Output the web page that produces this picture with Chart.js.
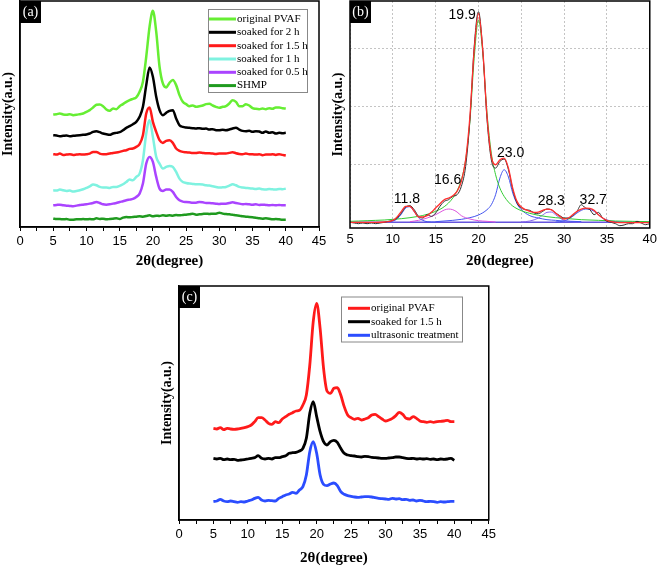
<!DOCTYPE html>
<html>
<head>
<meta charset="utf-8">
<script src="https://cdn.jsdelivr.net/npm/chart.js@4.4.1/dist/chart.umd.min.js"></script>
<style>
  body { margin: 0; background: #fff; width: 661px; height: 567px; position: relative; overflow: hidden; }
  .panel { position: absolute; }
</style>
</head>
<body>
<div class="panel" style="left:0;top:0;width:330px;height:270px"><canvas id="chartA"></canvas></div>
<div class="panel" style="left:330px;top:0;width:331px;height:270px"><canvas id="chartB"></canvas></div>
<div class="panel" style="left:159px;top:285px;width:340px;height:282px"><canvas id="chartC"></canvas></div>
<script>
// 2theta sample points (degree)
const angles = [5,5.5,6,6.5,7,7.5,8,8.5,9,9.5,10,10.5,11,11.5,12,12.5,13,13.5,14,14.5,
  15,15.5,16,16.5,17,17.5,18,18.5,19,19.5,20,20.5,21,21.5,22,22.5,23,23.5,24,24.5,
  25,25.5,26,26.5,27,27.5,28,28.5,29,29.5,30,30.5,31,31.5,32,32.5,33,33.5,34,34.5,
  35,35.5,36,36.5,37,37.5,38,38.5,39,39.5,40];

// ---- panel (a) : stacked XRD patterns (a.u.) ----
const aPvaf = [337,338,340,337,336,338,335,336,338,340,345,350,358,366,367,362,352,348,355,353,
  362,368,375,380,384,388,405,435,510,600,648,585,480,430,418,432,440,425,395,375,
  368,362,364,360,362,364,368,369,364,360,357,360,362,370,380,375,362,362,368,364,
  356,354,353,355,353,356,354,358,358,356,355];
const a2h = [275,274,272,273,274,272,273,274,275,276,277,280,285,287,284,280,278,276,280,282,
  284,290,297,302,308,315,330,360,425,478,450,390,350,335,342,348,350,325,305,300,
  298,297,296,295,296,294,295,292,293,290,290,291,290,292,295,297,292,288,287,288,
  285,287,286,282,286,282,284,280,282,281,282];
const a15h = [218,217,220,216,217,218,216,217,218,217,218,220,225,225,220,218,218,220,222,223,
  225,228,230,234,235,240,248,275,340,358,315,285,260,252,258,260,252,235,228,225,
  224,223,222,222,223,222,221,221,220,219,220,220,220,222,224,221,219,218,220,218,
  218,217,218,215,217,217,218,216,218,216,214];
const a1h = [110,109,112,110,108,109,106,108,110,113,117,122,127,125,120,118,118,117,120,120,
  123,128,135,142,140,150,160,200,280,320,270,210,190,175,180,183,180,165,145,135,
  132,130,129,128,128,127,125,124,122,120,118,119,120,124,128,125,120,118,117,116,
  115,114,115,113,112,114,113,112,114,113,115];
const a05h = [65,66,67,65,64,63,62,64,66,67,68,70,72,75,72,68,67,68,70,72,
  75,77,80,82,84,90,100,130,190,210,195,150,115,108,112,112,105,90,80,76,
  75,74,73,73,75,74,72,72,71,70,69,70,70,72,74,72,70,68,69,68,
  67,68,66,67,66,65,66,65,66,65,65];
const aShmp = [25,24,24,23,24,22,22,23,23,24,23,24,23,26,24,25,23,24,25,26,
  24,28,30,29,30,31,32,31,33,35,32,34,33,35,34,35,34,36,35,36,
  37,38,40,37,38,39,40,39,40,40,43,40,39,38,37,35,34,32,31,30,
  29,28,26,25,26,25,23,24,23,22,22];

// ---- panel (b) : peak fitting of original PVAF ----
const bRaw = [17,15,13,15,13,15,13,15,17,20,23,30,45,63,67,55,35,30,40,35,
  45,65,80,85,95,100,125,185,325,545,650,535,325,205,180,200,207,175,115,75,
  60,55,53,45,43,50,57,55,45,37,30,30,37,50,70,60,55,40,47,30,
  20,17,13,7,9,13,13,20,15,10,13];
const fitX = [5,6,7,8,9,10,10.5,11,11.5,12,12.5,13,13.5,14,14.5,15,15.5,16,16.5,17,17.5,18,18.5,19,19.5,
  20,20.5,21,21.5,22,22.5,23,23.5,24,24.5,25,25.5,26,26.5,27,27.5,28,28.5,29,29.5,30,30.5,31,31.5,
  32,32.5,33,33.5,34,34.5,35,35.5,36,37,38,39,40];
const fitY = [17,17,17,17,18,23,33,50,65,65,50,33,33,37,47,60,73,85,90,97,110,140,205,335,535,
  645,535,335,215,190,205,210,180,120,80,63,55,50,47,48,53,57,55,45,35,27,30,40,50,
  57,60,59,53,40,30,23,19,17,16,16,16,16];
const p199X = [5,6,7,8,9,10,11,12,13,14,15,15.5,16,16.5,17,17.5,18,18.5,19,19.5,20,20.5,21,21.5,22,22.5,23,23.5,24,
  25,26,27,28,29,30,32,34,36,38,40];
const p199Y = [20,21,22,23,24,26,28,31,35,41,50,56,64,75,90,112,145,205,320,510,625,525,345,225,160,120,95,78,66,
  52,44,38,34,31,29,25,23,21,20,19];
const p118X = [9,10,10.5,11,11.5,12,12.5,13,13.5,14,15];
const p118Y = [17,21,27,42,60,64,49,31,23,19,18];
const p166X = [12,13,14,15,15.5,16,16.5,17,17.5,18,19,20,21,22];
const p166Y = [19,23,30,40,47,54,57,55,48,37,27,22,20,18];
const p230X = [15,17,18,19,20,21,21.5,22,22.5,23,23.5,24,24.5,25,26,27,28,29,30,32];
const p230Y = [19,23,26,31,39,55,70,100,150,175,153,105,73,55,37,30,25,23,21,19];
const p283X = [25,26,27,27.5,28,28.5,29,29.5,30,31,32];
const p283Y = [18,21,30,39,47,48,40,30,23,19,18];
const p327X = [29,30,30.5,31,31.5,32,32.5,33,33.5,34,34.5,35,36,37];
const p327Y = [18,21,27,35,45,53,57,56,50,40,30,24,19,17];
const baseX = [5,40];
const baseY = [17,17];
const peakNames = ['11.8','16.6','19.9','23.0','28.3','32.7'];
const peakLabelX = [11.65,16.4,18.1,23.75,28.5,33.4];
const peakLabelY = [88,145,640,225,80,85];
const bGridY = [18,192,366,540];

// ---- panel (c) ----
const cPvaf = [275,273,277,271,275,273,272,273,275,277,280,285,295,307,307,300,290,287,295,292,
  303,310,317,322,327,329,345,375,465,595,650,575,455,387,380,395,397,375,340,315,
  307,302,305,300,303,307,315,317,310,303,297,300,305,313,323,317,305,303,310,305,
  297,295,293,295,293,295,296,297,299,295,295];
const cSoaked = [185,183,185,181,183,181,182,179,180,181,183,185,187,193,185,183,185,183,187,187,
  190,193,200,202,203,207,215,245,320,355,310,265,235,225,235,239,233,215,200,195,
  193,192,190,189,191,190,188,187,186,185,185,186,187,189,189,187,185,184,185,183,
  184,183,184,182,183,181,183,182,183,185,179];
const cUltra = [55,57,62,57,55,57,55,53,55,54,57,60,65,68,60,57,59,58,57,65,
  70,75,78,83,80,90,100,135,205,235,200,135,107,103,108,111,103,85,77,73,
  71,69,68,69,70,70,69,67,65,64,63,62,65,63,64,61,62,59,60,57,
  59,57,55,56,55,53,55,54,55,56,56];

const pts = (xs, ys) => xs.map((x, i) => ({ x: x, y: ys[i] }));

// frame + black panel tag
const frame = {
  id: 'frame',
  afterDraw(chart, args, opts) {
    const { ctx, chartArea: a } = chart;
    ctx.save();
    ctx.strokeStyle = '#000';
    ctx.lineWidth = 1.5;
    ctx.strokeRect(a.left, a.top, a.right - a.left, a.bottom - a.top);
    ctx.fillStyle = '#000';
    ctx.fillRect(a.left, a.top, 21, 22);
    ctx.fillStyle = '#fff';
    ctx.font = '14px "Liberation Serif"';
    ctx.textAlign = 'center';
    ctx.textBaseline = 'middle';
    ctx.fillText(opts.tag, a.left + 10.5, a.top + 11.5);
    ctx.restore();
  }
};

// boxed legend inside the plot
const boxLegend = {
  id: 'boxLegend',
  afterDraw(chart, args, opts) {
    if (!opts.rows) return;
    const ctx = chart.ctx;
    const [bx, by, bw, bh] = opts.box;
    ctx.save();
    ctx.fillStyle = '#fff';
    ctx.fillRect(bx, by, bw, bh);
    ctx.strokeStyle = '#888';
    ctx.lineWidth = 1;
    ctx.strokeRect(bx + 0.5, by + 0.5, bw, bh);
    ctx.font = '11px "Liberation Serif"';
    ctx.textBaseline = 'middle';
    chart.data.datasets.forEach((ds, i) => {
      const y = opts.rows[i];
      ctx.strokeStyle = ds.borderColor;
      ctx.lineWidth = 3;
      ctx.beginPath();
      ctx.moveTo(opts.x0, y);
      ctx.lineTo(opts.x1, y);
      ctx.stroke();
      ctx.fillStyle = '#000';
      ctx.fillText(ds.label, opts.tx, y);
    });
    ctx.restore();
  }
};

// peak position labels for (b)
const peakText = {
  id: 'peakText',
  afterDatasetsDraw(chart, args, opts) {
    if (!opts.names) return;
    const { ctx, scales: { x, y } } = chart;
    ctx.save();
    ctx.font = '14px "Liberation Sans"';
    ctx.fillStyle = '#000';
    ctx.textAlign = 'center';
    ctx.textBaseline = 'middle';
    opts.names.forEach((t, i) => ctx.fillText(t, x.getPixelForValue(opts.xs[i]), y.getPixelForValue(opts.ys[i])));
    ctx.restore();
  }
};

const titleFont = { family: 'Liberation Serif', weight: 'bold', size: 15 };
const yTitleFont = { family: 'Liberation Serif', weight: 'bold', size: 14 };
const tickFont = { family: 'Liberation Sans', size: 13 };

function line(label, data, color, width) {
  return { label: label, data: data, borderColor: color, borderWidth: width, pointRadius: 0,
           fill: false, cubicInterpolationMode: 'monotone' };
}

function stackedOptions(yMax, xHeight, pad, tag, legend) {
  return {
    responsive: true,
    maintainAspectRatio: false,
    animation: false,
    layout: { padding: pad },
    scales: {
      x: {
        type: 'linear', min: 0, max: 45,
        ticks: { stepSize: 2.5, autoSkip: false, maxRotation: 0, color: '#000', font: tickFont, padding: 3,
                 callback: v => (v % 5 === 0 ? v : '') },
        grid: { drawOnChartArea: false, tickLength: 4, tickColor: '#000', color: '#000' },
        border: { color: '#000', width: 1.5 },
        title: { display: true, text: '2θ(degree)', color: '#000', font: titleFont, padding: 0 },
        afterFit: s => { s.height = xHeight; }
      },
      y: {
        min: 0, max: yMax,
        ticks: { display: false },
        grid: { display: false },
        border: { color: '#000', width: 1.5 },
        title: { display: true, text: 'Intensity(a.u.)', color: '#000', font: yTitleFont, padding: 0 },
        afterFit: s => { s.width = 20; }
      }
    },
    plugins: {
      legend: { display: false },
      tooltip: { enabled: false },
      frame: { tag: tag },
      boxLegend: legend
    }
  };
}

new Chart(document.getElementById('chartA'), {
  type: 'line',
  data: {
    datasets: [
      line('original PVAF', pts(angles, aPvaf), '#66ee33', 2.5),
      line('soaked for 2 h', pts(angles, a2h), '#000000', 2.5),
      line('soaked for 1.5 h', pts(angles, a15h), '#ff1a1a', 2.5),
      line('soaked for 1 h', pts(angles, a1h), '#7ff2e0', 2.5),
      line('soaked for 0.5 h', pts(angles, a05h), '#aa44ff', 2.5),
      line('SHMP', pts(angles, aShmp), '#1f9a1f', 2.5)
    ]
  },
  options: stackedOptions(677, 43, { top: 1, right: 11, left: 0, bottom: 0 }, '(a)',
    { box: [208, 9, 99, 83], x0: 209, x1: 236, tx: 237, rows: [19, 32.3, 45.7, 59, 72.3, 85.6] }),
  plugins: [frame, boxLegend]
});

new Chart(document.getElementById('chartB'), {
  type: 'line',
  data: {
    datasets: [
      line('fit', pts(fitX, fitY), '#ff3030', 1.3),
      line('data', pts(angles, bRaw), '#303030', 1),
      line('19.9', pts(p199X, p199Y), '#33cc33', 1),
      line('11.8', pts(p118X, p118Y), '#4455ee', 1),
      line('16.6', pts(p166X, p166Y), '#dd55dd', 1),
      line('23.0', pts(p230X, p230Y), '#4455ee', 1),
      line('28.3', pts(p283X, p283Y), '#8866ee', 1),
      line('32.7', pts(p327X, p327Y), '#4455ee', 1),
      line('baseline', pts(baseX, baseY), '#6655dd', 1.5)
    ]
  },
  options: {
    responsive: true,
    maintainAspectRatio: false,
    animation: false,
    layout: { padding: { top: 1, right: 9, left: 0, bottom: 0 } },
    scales: {
      x: {
        type: 'linear', min: 5, max: 40,
        ticks: { stepSize: 5, maxRotation: 0, color: '#000', font: tickFont, padding: 4 },
        grid: { color: '#c4c4c4', drawTicks: false },
        border: { display: false, dash: [2, 2] },
        title: { display: true, text: '2θ(degree)', color: '#000', font: titleFont, padding: 0 },
        afterFit: s => { s.height = 42; }
      },
      y: {
        min: 0, max: 682,
        afterBuildTicks: s => { s.ticks = bGridY.map(v => ({ value: v })); },
        ticks: { display: false },
        grid: { color: '#c4c4c4', drawTicks: false },
        border: { display: false, dash: [2, 2] },
        title: { display: true, text: 'Intensity(a.u.)', color: '#000', font: yTitleFont, padding: 0 },
        afterFit: s => { s.width = 20; }
      }
    },
    plugins: {
      legend: { display: false },
      tooltip: { enabled: false },
      frame: { tag: '(b)' },
      peakText: { names: peakNames, xs: peakLabelX, ys: peakLabelY }
    }
  },
  plugins: [frame, peakText]
});

new Chart(document.getElementById('chartC'), {
  type: 'line',
  data: {
    datasets: [
      line('original PVAF', pts(angles, cPvaf), '#ff1a1a', 2.8),
      line('soaked for 1.5 h', pts(angles, cSoaked), '#000000', 2.8),
      line('ultrasonic treatment', pts(angles, cUltra), '#2b4dff', 2.8)
    ]
  },
  options: stackedOptions(702, 47, { top: 1, right: 10, left: 0, bottom: 0 }, '(c)',
    { box: [182, 11.5, 121, 45], x0: 189, x1: 211, tx: 212, rows: [23.3, 36.7, 50.3] }),
  plugins: [frame, boxLegend]
});
</script>
</body>
</html>
